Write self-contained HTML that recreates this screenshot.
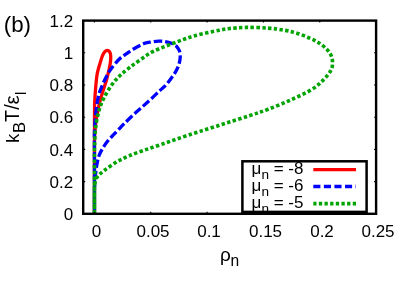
<!DOCTYPE html>
<html><head><meta charset="utf-8">
<style>
html,body{margin:0;padding:0;background:#fff;}
body{width:407px;height:285px;overflow:hidden;position:relative;font-family:"Liberation Sans",sans-serif;}
svg{position:absolute;left:0;top:0;display:block;will-change:transform;}
text{font-family:"Liberation Sans",sans-serif;fill:#000;}
</style></head><body>
<svg width="407" height="285" viewBox="0 0 407 285">
<rect x="0" y="0" width="407" height="285" fill="#fff"/>
<!-- curves -->
<g fill="none" stroke-linejoin="round">
<path d="M94.45 213.00 C94.45 202.50 94.44 165.50 94.45 150.00 C94.46 134.50 94.47 127.50 94.50 120.00 C94.53 112.50 94.50 109.17 94.60 105.00 C94.70 100.83 94.88 98.33 95.10 95.00 C95.32 91.67 95.58 88.33 95.90 85.00 C96.22 81.67 96.55 77.83 97.00 75.00 C97.45 72.17 98.03 70.17 98.60 68.00 C99.17 65.83 99.75 64.05 100.40 62.00 C101.05 59.95 101.78 57.40 102.50 55.70 C103.22 54.00 103.90 52.70 104.70 51.80 C105.50 50.90 106.52 50.35 107.30 50.30 C108.08 50.25 108.85 50.77 109.40 51.50 C109.95 52.23 110.38 53.45 110.60 54.70 C110.82 55.95 110.77 57.53 110.70 59.00 C110.63 60.47 110.45 61.83 110.20 63.50 C109.95 65.17 109.82 66.25 109.20 69.00 C108.58 71.75 107.48 76.50 106.50 80.00 C105.52 83.50 104.43 86.28 103.30 90.00 C102.17 93.72 100.78 97.97 99.70 102.30 C98.62 106.63 97.55 111.72 96.80 116.00 C96.05 120.28 95.59 124.00 95.20 128.00 C94.81 132.00 94.58 134.67 94.45 140.00 C94.33 145.33 94.45 147.83 94.45 160.00 C94.45 172.17 94.45 204.17 94.45 213.00" stroke="#ff0000" stroke-width="3.3"/>
<path d="M94.45 213.00 C94.45 209.50 94.41 196.83 94.45 192.00 C94.49 187.17 94.58 186.50 94.70 184.00 C94.83 181.50 94.95 179.50 95.20 177.00 C95.45 174.50 95.82 171.58 96.20 169.00 C96.58 166.42 96.98 163.83 97.50 161.50 C98.02 159.17 98.48 157.12 99.30 155.00 C100.12 152.88 101.07 151.03 102.40 148.80 C103.73 146.57 105.65 143.73 107.30 141.60 C108.95 139.47 110.52 137.90 112.30 136.00 C114.08 134.10 116.02 132.25 118.00 130.20 C119.98 128.15 121.63 126.27 124.20 123.70 C126.77 121.13 130.53 117.47 133.40 114.80 C136.27 112.13 138.47 110.33 141.40 107.70 C144.33 105.07 147.90 101.88 151.00 99.00 C154.10 96.12 157.47 92.78 160.00 90.40 C162.53 88.02 164.30 86.77 166.20 84.70 C168.10 82.63 169.80 80.22 171.40 78.00 C173.00 75.78 174.57 73.62 175.80 71.40 C177.03 69.18 178.07 67.03 178.80 64.70 C179.53 62.37 180.10 59.72 180.20 57.40 C180.30 55.08 180.03 52.67 179.40 50.80 C178.77 48.93 177.72 47.47 176.40 46.20 C175.08 44.93 173.40 43.97 171.50 43.20 C169.60 42.43 167.15 41.93 165.00 41.60 C162.85 41.27 161.10 41.10 158.60 41.20 C156.10 41.30 152.45 41.80 150.00 42.20 C147.55 42.60 146.72 42.42 143.90 43.60 C141.08 44.78 135.92 47.68 133.10 49.30 C130.28 50.92 129.25 51.72 127.00 53.30 C124.75 54.88 122.27 56.20 119.60 58.80 C116.93 61.40 113.05 66.20 111.00 68.90 C108.95 71.60 108.67 72.48 107.30 75.00 C105.93 77.52 104.18 80.83 102.80 84.00 C101.42 87.17 100.00 90.50 99.00 94.00 C98.00 97.50 97.40 101.00 96.80 105.00 C96.20 109.00 95.79 113.50 95.40 118.00 C95.01 122.50 94.61 126.67 94.45 132.00 C94.29 137.33 94.45 136.50 94.45 150.00 C94.45 163.50 94.45 202.50 94.45 213.00" stroke="#0000ff" stroke-width="3.3" stroke-dasharray="8.3 3"/>
<path d="M94.45 213.00 C94.45 210.83 94.45 204.50 94.45 200.00 C94.45 195.50 94.39 188.67 94.45 186.00 C94.51 183.33 94.61 184.97 94.80 184.00 C94.99 183.03 95.07 181.53 95.60 180.20 C96.13 178.87 96.50 177.67 98.00 176.00 C99.50 174.33 101.45 172.57 104.60 170.20 C107.75 167.83 112.83 164.18 116.90 161.80 C120.97 159.42 124.50 157.82 129.00 155.90 C133.50 153.98 138.73 152.13 143.90 150.30 C149.07 148.47 154.27 146.87 160.00 144.90 C165.73 142.93 171.63 140.75 178.30 138.50 C184.97 136.25 192.22 133.90 200.00 131.40 C207.78 128.90 216.67 126.15 225.00 123.50 C233.33 120.85 242.78 117.88 250.00 115.50 C257.22 113.12 261.63 111.73 268.30 109.20 C274.97 106.67 282.78 103.57 290.00 100.30 C297.22 97.03 305.98 93.05 311.60 89.60 C317.22 86.15 320.47 82.83 323.70 79.60 C326.93 76.37 329.53 73.00 331.00 70.20 C332.47 67.40 332.47 65.23 332.50 62.80 C332.53 60.37 332.12 57.82 331.20 55.60 C330.28 53.38 329.03 51.62 327.00 49.50 C324.97 47.38 321.97 44.82 319.00 42.90 C316.03 40.98 312.88 39.62 309.20 38.00 C305.52 36.38 301.00 34.48 296.90 33.20 C292.80 31.92 289.37 31.15 284.60 30.30 C279.83 29.45 274.65 28.58 268.30 28.10 C261.95 27.62 252.88 27.33 246.50 27.40 C240.12 27.47 234.57 28.02 230.00 28.50 C225.43 28.98 225.00 29.08 219.10 30.30 C213.20 31.52 201.40 33.95 194.60 35.80 C187.80 37.65 185.12 38.83 178.30 41.40 C171.48 43.97 160.08 48.10 153.70 51.20 C147.32 54.30 144.10 57.22 140.00 60.00 C135.90 62.78 132.33 65.40 129.10 67.90 C125.87 70.40 123.00 72.80 120.60 75.00 C118.20 77.20 116.70 78.65 114.70 81.10 C112.70 83.55 110.43 86.83 108.60 89.70 C106.77 92.57 105.03 95.67 103.70 98.30 C102.37 100.93 101.45 103.22 100.60 105.50 C99.75 107.78 99.27 109.42 98.60 112.00 C97.93 114.58 97.13 118.00 96.60 121.00 C96.07 124.00 95.70 126.83 95.40 130.00 C95.10 133.17 94.96 136.33 94.80 140.00 C94.64 143.67 94.51 147.00 94.45 152.00 C94.39 157.00 94.45 159.83 94.45 170.00 C94.45 180.17 94.45 205.83 94.45 213.00" stroke="#00a400" stroke-width="3.6" stroke-dasharray="3.4 2.36"/>
</g>
<!-- legend -->
<rect x="242.4" y="161.3" width="124.2" height="50.6" fill="#fff" stroke="#000" stroke-width="2.5"/>
<g font-size="17">
<text x="251.6" y="174.2">μ<tspan font-size="13.6" dy="4.8">n</tspan><tspan dy="-4.8"> = -8</tspan></text>
<text x="251.6" y="191.1">μ<tspan font-size="13.6" dy="4.8">n</tspan><tspan dy="-4.8"> = -6</tspan></text>
<text x="251.6" y="208">μ<tspan font-size="13.6" dy="4.8">n</tspan><tspan dy="-4.8"> = -5</tspan></text>
</g>
<g fill="none">
<path d="M313.3 169.6 H356" stroke="#ff0000" stroke-width="3.3"/>
<path d="M313.3 186.5 H356" stroke="#0000ff" stroke-width="3.3" stroke-dasharray="7.1 3.47"/>
<path d="M313.3 203.6 H356.2" stroke="#00a400" stroke-width="3.7" stroke-dasharray="3.3 2.35" stroke-dashoffset="0.1"/>
</g>
<!-- frame -->
<rect x="83.2" y="20.6" width="292.9" height="193.2" fill="none" stroke="#000" stroke-width="2.4"/>
<!-- ticks -->
<path d="M83.20 181.60 h2 M376.10 181.60 h-2 M83.20 149.40 h2 M376.10 149.40 h-2 M83.20 117.20 h2 M376.10 117.20 h-2 M83.20 85.00 h2 M376.10 85.00 h-2 M83.20 52.80 h2 M376.10 52.80 h-2 M94.40 213.80 v-2 M94.40 20.60 v2 M150.74 213.80 v-2 M150.74 20.60 v2 M207.08 213.80 v-2 M207.08 20.60 v2 M263.42 213.80 v-2 M263.42 20.60 v2 M319.76 213.80 v-2 M319.76 20.60 v2" stroke="#000" stroke-width="1.1" fill="none"/>
<!-- y tick labels -->
<g font-size="17" text-anchor="end">
<text x="73.1" y="26.9">1.2</text>
<text x="73.1" y="59.0">1</text>
<text x="73.1" y="91.2">0.8</text>
<text x="73.1" y="123.4">0.6</text>
<text x="73.1" y="155.7">0.4</text>
<text x="73.1" y="187.9">0.2</text>
<text x="73.1" y="220.2">0</text>
</g>
<g font-size="17" text-anchor="middle">
<text x="96.5" y="236.7">0</text>
<text x="153" y="236.7">0.05</text>
<text x="209" y="236.7">0.1</text>
<text x="265.5" y="236.7">0.15</text>
<text x="322" y="236.7">0.2</text>
<text x="378" y="236.7">0.25</text>
</g>
<text x="3.8" y="31.7" font-size="22.3">(b)</text>
<text x="220.0" y="261.2" font-size="19">ρ</text>
<text x="230.45" y="266.3" font-size="15.6">n</text>
<g transform="translate(18.6,143) rotate(-90)">
<text x="-0.1" y="0" font-size="18.6">k</text>
<text x="9.9" y="6.3" font-size="16.6">B</text>
<text x="20.93" y="0" font-size="19.4">T</text>
<text x="33.2" y="0" font-size="19.4">/</text>
<text x="38.5" y="0.8" font-size="20.5">ε</text>
<text x="48.1" y="7.5" font-size="15">l</text>
</g>
</svg>
</body></html>
